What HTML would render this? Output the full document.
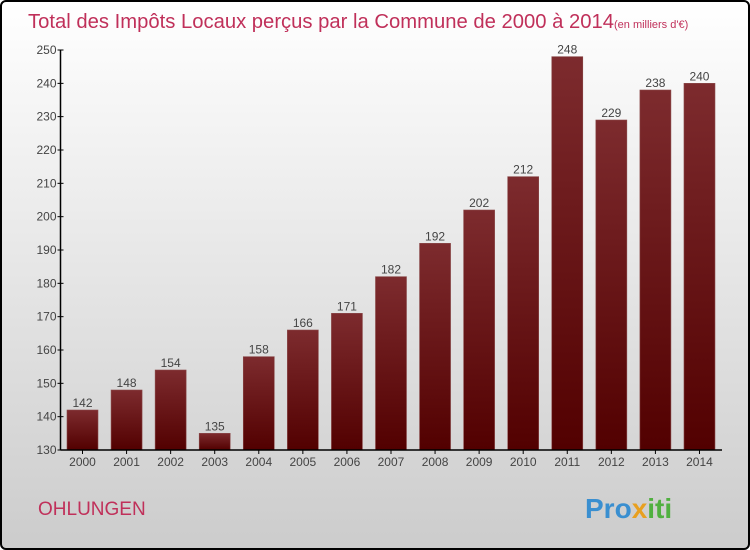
<!DOCTYPE html>
<html><head><meta charset="utf-8"><style>
body{margin:0}
#wrap{position:relative;width:746px;height:546px;border:2px solid #000;border-radius:6px;overflow:hidden;background:linear-gradient(#fff,#ccc);font-family:"Liberation Sans",sans-serif}
</style></head><body>
<div id="wrap">
<svg id="chart" width="746" height="546" xmlns="http://www.w3.org/2000/svg">
<defs><linearGradient id="bg" x1="0" y1="0" x2="0" y2="1"><stop offset="0" stop-color="#7d2b2e"/><stop offset="1" stop-color="#520000"/></linearGradient></defs>
<text x="26" y="26" font-size="20" fill="#c0305a"><tspan textLength="586" lengthAdjust="spacingAndGlyphs">Total des Impôts Locaux perçus par la Commune de 2000 à 2014</tspan><tspan font-size="11">(en milliers d'€)</tspan></text>
<text x="36" y="513" font-size="19" fill="#c0305a">OHLUNGEN</text>
<text x="583" y="516" font-size="28" font-weight="bold" fill="#3a8fd0">Pro<tspan fill="#e8a020">x</tspan><tspan fill="#50b040">iti</tspan></text>
<g id="plot"></g>
</svg>
</div>
<script>
const years=["2000","2001","2002","2003","2004","2005","2006","2007","2008","2009","2010","2011","2012","2013","2014"];
const values=[142,148,154,135,158,166,171,182,192,202,212,248,229,238,240];
const ticks=[130,140,150,160,170,180,190,200,210,220,230,240,250];
const NS="http://www.w3.org/2000/svg";
const g=document.getElementById('plot');
const x0=58.5,y0=448,yTop=48,vmin=130,vmax=250;
const y=v=>y0-(v-vmin)*(y0-yTop)/(vmax-vmin);
const xc=i=>80.5+i*44.07;
function el(t,a){const e=document.createElementNS(NS,t);for(const k in a)e.setAttribute(k,a[k]);g.appendChild(e);return e;}
values.forEach((v,i)=>{
 const r=el('rect',{x:xc(i)-15.5,y:y(v),width:31,height:y0-y(v),fill:'url(#bg)',stroke:'#8a4a4a','stroke-width':0.6});
 
 
 const t=el('text',{x:xc(i),y:y(v)-3,'font-size':12,'text-anchor':'middle',fill:'#444'});t.textContent=v;
 
 
 const l=el('text',{x:xc(i),y:y0+16,'font-size':12,'text-anchor':'middle',fill:'#444'});l.textContent=years[i];
 
 
 el('line',{x1:xc(i),x2:xc(i),y1:y0,y2:y0+4,stroke:'#000'});
});
ticks.forEach(v=>{
 el('line',{x1:x0-3,x2:x0+3,y1:y(v),y2:y(v),stroke:'#000'});
 const t=el('text',{x:x0-4,y:y(v)+4,'font-size':12,'text-anchor':'end',fill:'#444'});t.textContent=v;
 
 
});
const ya=el('line',{x1:x0,x2:x0,y1:yTop,y2:y0,stroke:'#000','stroke-width':1.5});


const xa=el('line',{x1:x0,x2:720,y1:y0,y2:y0,stroke:'#000','stroke-width':1.5});


</script>
</body></html>
